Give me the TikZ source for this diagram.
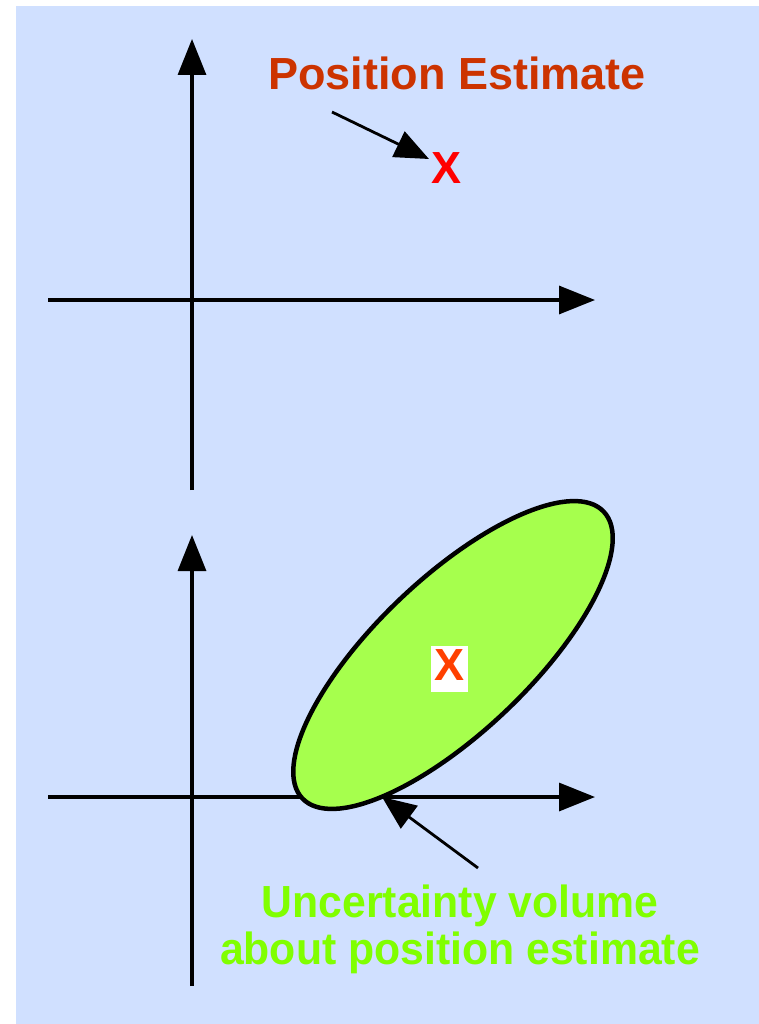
\documentclass[tikz,border=0pt]{standalone}
\usepackage{fontspec}
\setmainfont{Liberation Sans}
\usetikzlibrary{arrows.meta,shapes.geometric}
\definecolor{bgblue}{HTML}{D0E0FF}
\definecolor{ellgreen}{HTML}{A6FF4D}
\definecolor{titlered}{HTML}{CC3300}
\definecolor{xorange}{HTML}{FF4000}
\definecolor{lblgreen}{HTML}{80FF00}
\tikzset{
  axis/.style={line width=3.3pt, -{Triangle[length=36pt,width=28pt]}},
  pointer/.style={line width=2.8pt, -{Triangle[length=34pt,width=28pt]}},
  big/.style={font=\bfseries\fontsize{45}{47}\selectfont, inner sep=0pt, anchor=base},
}
\begin{document}
\begin{tikzpicture}[x=1pt,y=-1pt]
\useasboundingbox (0,0) rectangle (759,1024);
\fill[bgblue] (16,6) rectangle (759,1024);
% top axes
\coordinate (tyb) at (192,490);
\coordinate (tyt) at (192,39);
\coordinate (txl) at (48,300);
\coordinate (txr) at (595,300);
\draw[axis] (tyb) -- (tyt);
\draw[axis] (txl) -- (txr);
% bottom axes
\coordinate (byb) at (192,986);
\coordinate (byt) at (192,535);
\coordinate (bxl) at (48,797);
\coordinate (bxr) at (595,797);
\draw[axis] (byb) -- (byt);
\draw[axis] (bxl) -- (bxr);
% top labels
\node[big, text=titlered] (title) at (457,90) {Position Estimate};
\node[big, text=red] (xone) at (447,184) {X};
\coordinate (p1) at (332,112);
\coordinate (p1h) at (429,159);
\draw[pointer] (p1) -- (p1h);
% uncertainty ellipse
\node[ellipse, draw=black, line width=4.5pt, fill=ellgreen, inner sep=0pt,
      minimum width=416pt, minimum height=154pt, rotate=43.6] (unc) at (453,655) {};
\node[big, text=xorange, fill=white, text height=34.5pt, text depth=12pt,
      minimum width=37pt] (xtwo) at (449.5,680) {X};
% bottom label
\coordinate (p2) at (478,868);
\coordinate (p2h) at (382,797);
\draw[pointer] (p2) -- (p2h);
\node[big, text=lblgreen, xscale=0.95] (lbl1) at (460,917) {Uncertainty volume};
\node[big, text=lblgreen, xscale=0.95] (lbl2) at (460,964) {about position estimate};
\end{tikzpicture}
\end{document}
